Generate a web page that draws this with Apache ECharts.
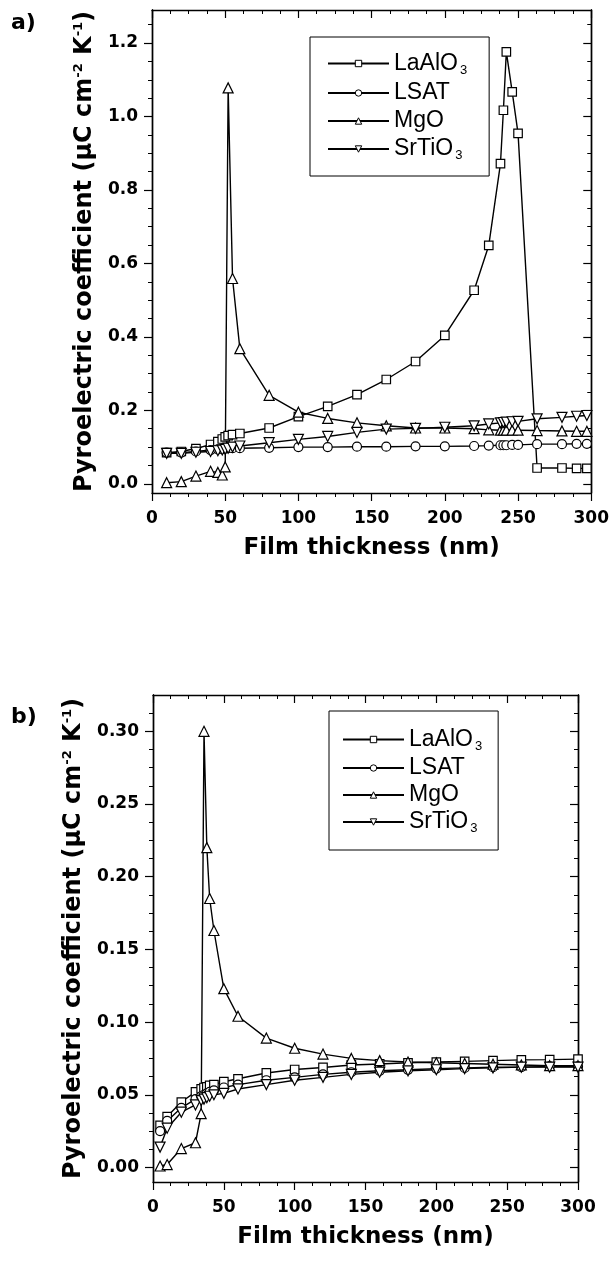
<!DOCTYPE html>
<html>
<head>
<meta charset="UTF-8">
<title>Pyroelectric coefficient</title>
<script src="https://cdn.jsdelivr.net/npm/echarts@6/dist/echarts.min.js"></script>
<style>
  html, body { margin: 0; padding: 0; background: #fff; }
</style>
</head>
<body>
<div id="main" style="width:612px;height:1262px"></div>
<script>
// series names
var names = ['LaAlO3', 'LSAT', 'MgO', 'SrTiO3'];

// panel a) film thickness (nm)
var xA = [10, 20, 30, 40, 45, 48, 50, 52, 55, 60, 80, 100, 120, 140, 160, 180, 200, 220,
          230, 238, 240, 242, 246, 250, 263, 280, 290, 297];
var laA = [0.085, 0.088, 0.096, 0.107, 0.115, 0.122, 0.128, 0.131, 0.134, 0.137,
           0.152, 0.183, 0.211, 0.243, 0.284, 0.333, 0.404, 0.527,
           0.649, 0.872, 1.017, 1.176, 1.067, 0.954, 0.043, 0.043, 0.042, 0.042];
var lsA = [0.085, 0.085, 0.088, 0.092, 0.094, 0.095, 0.096, 0.097, 0.097, 0.097,
           0.098, 0.100, 0.100, 0.101, 0.101, 0.102, 0.102, 0.103,
           0.104, 0.105, 0.105, 0.105, 0.106, 0.106, 0.108, 0.108, 0.109, 0.109];
var mgA = [0.003, 0.006, 0.021, 0.034, 0.031, 0.024, 0.046, 1.078, 0.559, 0.368,
           0.241, 0.195, 0.178, 0.166, 0.158, 0.152, 0.152, 0.150,
           0.147, 0.146, 0.146, 0.146, 0.146, 0.146, 0.145, 0.144, 0.143, 0.143];
var srA = [0.083, 0.083, 0.086, 0.088, 0.090, 0.092, 0.094, 0.097, 0.100, 0.103,
           0.112, 0.121, 0.129, 0.140, 0.149, 0.151, 0.154, 0.158,
           0.163, 0.166, 0.167, 0.168, 0.169, 0.170, 0.177, 0.181, 0.184, 0.186];

// panel b)
var xB = [5, 10, 20, 30, 34, 36, 38, 40, 43, 50, 60, 80, 100, 120, 140, 160, 180, 200,
          220, 240, 260, 280, 300];
var laB = [0.029, 0.035, 0.045, 0.052, 0.054, 0.055, 0.0555, 0.0565, 0.057, 0.059, 0.061,
           0.065, 0.0674, 0.0688, 0.0705, 0.0712, 0.072, 0.0725, 0.073, 0.0735, 0.074, 0.0742, 0.0745];
var lsB = [0.025, 0.032, 0.041, 0.047, 0.049, 0.050, 0.051, 0.052, 0.053, 0.055, 0.057,
           0.060, 0.062, 0.064, 0.0655, 0.0665, 0.0672, 0.068, 0.0685, 0.069, 0.069, 0.0695, 0.0695];
var mgB = [0.001, 0.002, 0.013, 0.017, 0.037, 0.300, 0.220, 0.185, 0.163, 0.123, 0.104,
           0.089, 0.082, 0.078, 0.075, 0.0735, 0.0725, 0.072, 0.0715, 0.071, 0.0705, 0.070, 0.070];
var srB = [0.014, 0.027, 0.038, 0.043, 0.046, 0.047, 0.048, 0.049, 0.050, 0.051, 0.054,
           0.057, 0.060, 0.062, 0.064, 0.0655, 0.0665, 0.0672, 0.068, 0.0685, 0.069, 0.069, 0.069];

// tick labels
var yTicksA = [0, 0.2, 0.4, 0.6, 0.8, 1.0, 1.2];
var yTicksB = [0, 0.05, 0.10, 0.15, 0.20, 0.25, 0.30];

function minors(step, n) {
    var out = [];
    for (var k = 1; k <= n; k++) {
        if (k % 4 !== 0) out.push(+(k * step).toFixed(5));
    }
    return out;
}
var yMinorA = minors(0.05, 25);
var yMinorB = minors(0.0125, 25);

var BOLD = '"DejaVu Sans", sans-serif';
var PLAIN = '"Liberation Sans", Arial, sans-serif';
var symbols = {
    'LaAlO3': {symbol: 'rect', size: 8.5, rot: 0},
    'LSAT': {symbol: 'circle', size: 9, rot: 0},
    'MgO': {symbol: 'triangle', size: 10, rot: 0},
    'SrTiO3': {symbol: 'triangle', size: 10, rot: 180}
};

function pairs(xs, ys) {
    return xs.map(function (x, i) { return [x, ys[i]]; });
}

function makeSeries(name, xs, ys, xi, yi) {
    var s = symbols[name];
    return {
        name: name,
        type: 'line',
        xAxisIndex: xi,
        yAxisIndex: yi,
        data: pairs(xs, ys),
        symbol: s.symbol,
        symbolSize: s.size,
        symbolRotate: s.rot,
        showAllSymbol: true,
        lineStyle: {color: '#000', width: 1.4},
        itemStyle: {color: '#fff', borderColor: '#000', borderWidth: 1.2},
        emphasis: {disabled: true},
        animation: false
    };
}

var axisLineStyle = {show: true, onZero: false, lineStyle: {color: '#000', width: 1.4}};

function xAxes(grid) {
    var base = {
        gridIndex: grid, type: 'value', min: 0, max: 300, interval: 50,
        axisLine: axisLineStyle,
        splitLine: {show: false}
    };
    return [
        Object.assign({}, base, {
            position: 'bottom',
            axisTick: {length: 8, lineStyle: {color: '#000', width: 1.2}},
            minorTick: {show: true, splitNumber: 4, length: 4, lineStyle: {color: '#000', width: 1}},
            axisLabel: {color: '#000', fontFamily: BOLD, fontWeight: 'bold', fontSize: 17, margin: 17},
            name: 'Film thickness (nm)',
            nameLocation: 'middle',
            nameGap: 44,
            nameTextStyle: {color: '#000', fontFamily: BOLD, fontWeight: 'bold', fontSize: 23}
        }),
        Object.assign({}, base, {
            position: 'top',
            axisTick: {inside: true, length: 8, lineStyle: {color: '#000', width: 1.2}},
            minorTick: {show: true, splitNumber: 4, length: 4, lineStyle: {color: '#000', width: 1}},
            axisLabel: {show: false}
        })
    ];
}

function yAxes(grid, min, max, majors, minorVals, digits) {
    var base = {
        gridIndex: grid, type: 'value', min: min, max: max,
        axisLine: axisLineStyle,
        splitLine: {show: false}
    };
    return [
        Object.assign({}, base, {
            position: 'left',
            axisTick: {length: 8, customValues: majors, lineStyle: {color: '#000', width: 1.2}},
            axisLabel: {
                customValues: majors, color: '#000', fontFamily: BOLD, fontWeight: 'bold',
                fontSize: 17, margin: 14,
                formatter: function (v) { return v.toFixed(digits); }
            },
            name: 'Pyroelectric coefficient (\u03bcC cm{sup|-2} K{sup|-1})',
            nameLocation: 'middle',
            nameGap: 52,
            nameTextStyle: {
                color: '#000', fontFamily: BOLD, fontWeight: 'bold', fontSize: 24,
                rich: {sup: {fontFamily: BOLD, fontWeight: 'bold', fontSize: 13, padding: [0, 0, 13, 0]}}
            }
        }),
        Object.assign({}, base, {
            position: 'left',
            axisTick: {length: 4, customValues: minorVals, lineStyle: {color: '#000', width: 1}},
            axisLabel: {show: false}
        }),
        Object.assign({}, base, {
            position: 'right',
            axisTick: {inside: true, length: 8, customValues: majors, lineStyle: {color: '#000', width: 1.2}},
            axisLabel: {show: false}
        }),
        Object.assign({}, base, {
            position: 'right',
            axisTick: {inside: true, length: 4, customValues: minorVals, lineStyle: {color: '#000', width: 1}},
            axisLabel: {show: false}
        })
    ];
}

function legendAt(left, top, gap, pad) {
    return {
        data: names,
        orient: 'vertical',
        left: left,
        top: top,
        borderColor: '#000',
        borderWidth: 1,
        padding: pad,
        itemWidth: 61,
        itemHeight: 8,
        itemGap: gap,
        selectedMode: false,
        itemStyle: {color: '#fff', borderColor: '#000', borderWidth: 1},
        textStyle: {
            color: '#000', fontFamily: PLAIN, fontSize: 23, lineHeight: 22,
            rich: {sub: {fontFamily: PLAIN, fontSize: 13, padding: [13, 0, 0, 2]}}
        },
        formatter: function (n) {
            return n.replace(/(\d)$/, '{sub|$1}');
        }
    };
}

var myChart = echarts.init(document.getElementById('main'));

var option = {
    backgroundColor: '#fff',
    animation: false,
    title: [
        {text: 'a)', left: 6, top: 7, textStyle: {color: '#000', fontFamily: BOLD, fontWeight: 'bold', fontSize: 22}},
        {text: 'b)', left: 6, top: 701, textStyle: {color: '#000', fontFamily: BOLD, fontWeight: 'bold', fontSize: 22}}
    ],
    grid: [
        {left: 152, top: 10, width: 441, height: 483},
        {left: 153, top: 695, width: 425, height: 487}
    ],
    legend: [
        legendAt(310, 37, 5, [15, 22, 14, 17]),
        legendAt(329, 711, 4, [17, 16, 15, 13])
    ],
    xAxis: xAxes(0).concat(xAxes(1)),
    yAxis: yAxes(0, -0.025, 1.29, yTicksA, yMinorA, 1)
        .concat(yAxes(1, -0.01, 0.325, yTicksB, yMinorB, 2)),
    series: [
        makeSeries('LaAlO3', xA, laA, 0, 0),
        makeSeries('LSAT', xA, lsA, 0, 0),
        makeSeries('MgO', xA, mgA, 0, 0),
        makeSeries('SrTiO3', xA, srA, 0, 0),
        makeSeries('LaAlO3', xB, laB, 2, 4),
        makeSeries('LSAT', xB, lsB, 2, 4),
        makeSeries('MgO', xB, mgB, 2, 4),
        makeSeries('SrTiO3', xB, srB, 2, 4)
    ]
};

myChart.setOption(option);
</script>
</body>
</html>
